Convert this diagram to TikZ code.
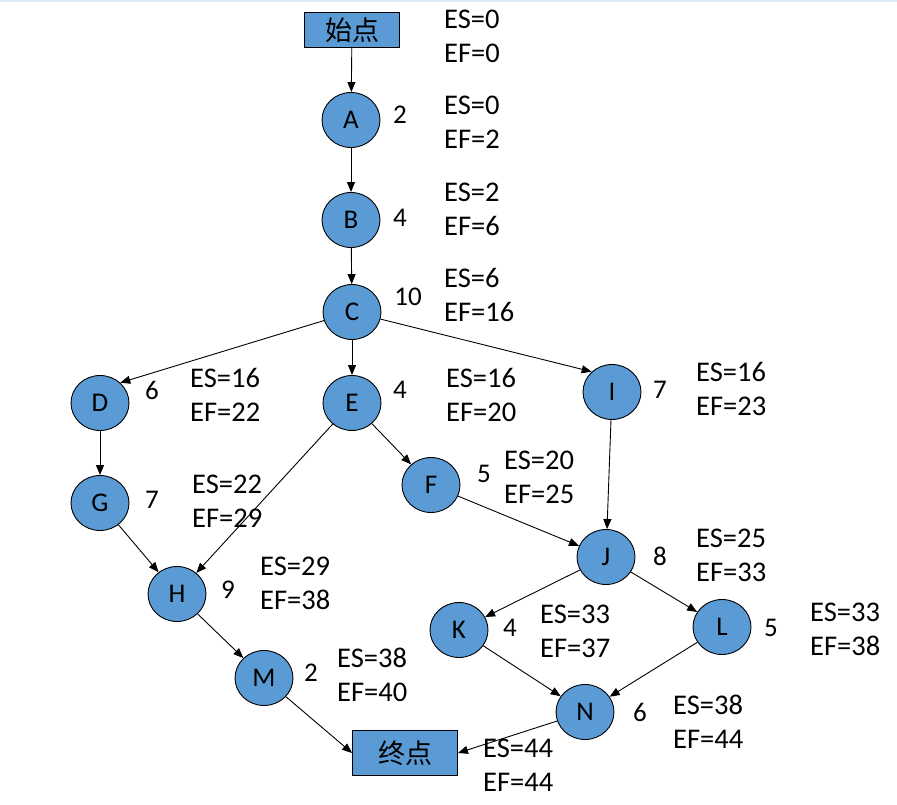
\documentclass[tikz,border=0pt]{standalone}
\usepackage{fontspec}
\setmainfont{Carlito}
\newfontfamily\cjk{Noto Sans CJK SC}
\usetikzlibrary{arrows.meta, shapes.geometric}
\definecolor{actblue}{RGB}{91,155,213}
\definecolor{topline}{RGB}{218,234,246}
\newcommand{\esef}[2]{ES=#1\\EF=#2}

\begin{document}
\begin{tikzpicture}[x=1pt, y=-1pt,
    act/.style={ellipse, draw=black, line width=0.9pt, fill=actblue,
        minimum width=58pt, minimum height=55pt, inner sep=0pt,
        font=\fontsize{27}{30}\selectfont},
    endbox/.style={rectangle, draw=black, line width=0.9pt, fill=actblue,
        inner sep=0pt, font=\cjk\fontsize{27}{30}\selectfont},
    dur/.style={inner sep=0pt, font=\fontsize{27}{30}\selectfont},
    times/.style={anchor=west, align=left, inner sep=0pt,
        font=\fontsize{28.5}{34}\selectfont},
    link/.style={-{Triangle[length=10pt,width=8pt]}, line width=0.9pt},
]
\useasboundingbox (0,0) rectangle (897,805);
\fill[topline] (0,0) rectangle (897,2);

\node (start) [endbox, minimum width=95pt, minimum height=35pt] at (352,30) {始点};
\node (finish) [endbox, minimum width=105pt, minimum height=45pt] at (405,753) {终点};

\node (A) [act] at (351,120) {A};
\node (B) [act] at (351,220) {B};
\node (C) [act] at (352,312) {C};
\node (D) [act] at (100,403) {D};
\node (E) [act] at (352,403) {E};
\node (I) [act] at (612,392) {I};
\node (G) [act] at (100,503) {G};
\node (F) [act] at (431,485) {F};
\node (J) [act] at (606,557) {J};
\node (H) [act] at (177,594) {H};
\node (K) [act] at (459,630) {K};
\node (L) [act] at (722,627) {L};
\node (M) [act] at (264,678) {M};
\node (N) [act] at (585,712) {N};

% durations
\node (dA) [dur] at (400,115) {2};
\node (dB) [dur] at (400,218) {4};
\node (dC) [dur] at (408,297) {10};
\node (dD) [dur] at (152,390) {6};
\node (dE) [dur] at (400,390) {4};
\node (dI) [dur] at (660,390) {7};
\node (dG) [dur] at (152,500) {7};
\node (dF) [dur] at (484,474) {5};
\node (dJ) [dur] at (660,556) {8};
\node (dH) [dur] at (228,590) {9};
\node (dK) [dur] at (510,628) {4};
\node (dL) [dur] at (771,628) {5};
\node (dM) [dur] at (311,673) {2};
\node (dN) [dur] at (640,712) {6};

% earliest start / finish
\node (tstart) [times] at (444,36) {\esef{0}{0}};
\node (tA) [times] at (444,122) {\esef{0}{2}};
\node (tB) [times] at (444,209) {\esef{2}{6}};
\node (tC) [times] at (444,295) {\esef{6}{16}};
\node (tD) [times] at (190,395) {\esef{16}{22}};
\node (tE) [times] at (446,395) {\esef{16}{20}};
\node (tI) [times] at (696,389) {\esef{16}{23}};
\node (tG) [times] at (192,501) {\esef{22}{29}};
\node (tF) [times] at (504,477) {\esef{20}{25}};
\node (tJ) [times] at (696,555) {\esef{25}{33}};
\node (tH) [times] at (260,583) {\esef{29}{38}};
\node (tK) [times] at (540,631) {\esef{33}{37}};
\node (tL) [times] at (810,629) {\esef{33}{38}};
\node (tM) [times] at (337,675) {\esef{38}{40}};
\node (tN) [times] at (673,722) {\esef{38}{44}};
\node (tfinish) [times] at (483,765) {\esef{44}{44}};

\draw[link] (start) -- (A);
\draw[link] (A) -- (B);
\draw[link] (B) -- (C);
\draw[link] (C) -- (D.45);
\draw[link] (C) -- (E);
\draw[link] (C) -- (I.135);
\draw[link] (D) -- (G);
\draw[link] (E) -- (H);
\draw[link] (E) -- (F);
\draw[link] (G) -- (H);
\draw[link] (F) -- (J);
\draw[link] (I) -- (J);
\draw[link] (H) -- (M);
\draw[link] (J) -- (K);
\draw[link] (J) -- (L);
\draw[link] (K) -- (N);
\draw[link] (L) -- (N);
\draw[link] (M) -- (finish.west);
\draw[link] (N) -- (finish.east);
\end{tikzpicture}
\end{document}
